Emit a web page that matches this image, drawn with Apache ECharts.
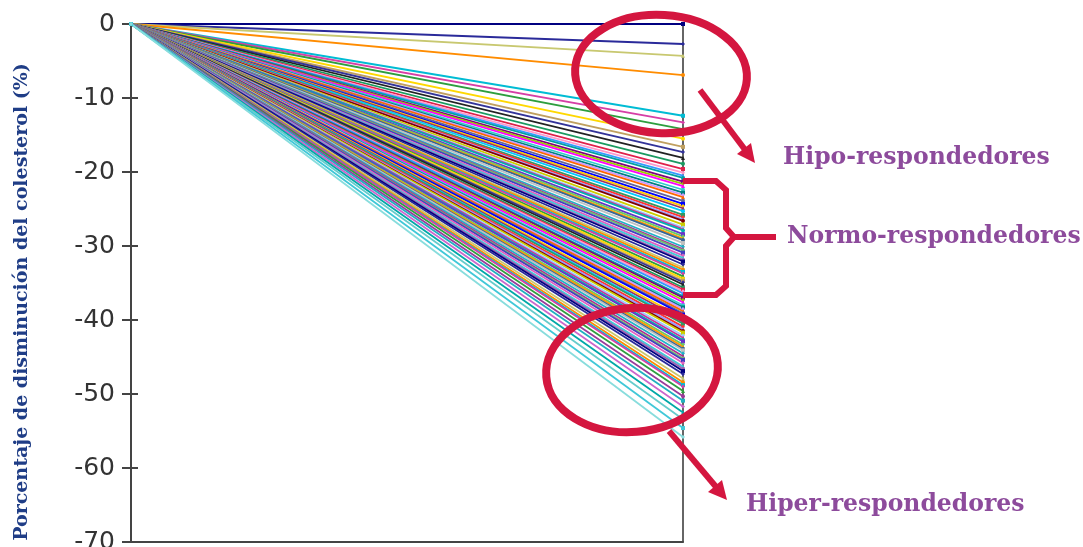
<!DOCTYPE html>
<html>
<head>
<meta charset="utf-8">
<script src="https://cdn.jsdelivr.net/npm/echarts@6/dist/echarts.min.js"></script>
<style>
html, body { margin: 0; padding: 0; background: #fff; }
#chart { width: 1083px; height: 547px; }
</style>
</head>
<body>
<div id="chart"></div>
<script>
// dos puntos: inicio del tratamiento y final
const momentos = ['Inicio', 'Final']
const yTicks = [0, -10, -20, -30, -40, -50, -60, -70]
// % de disminucion del colesterol al final, uno por paciente
const finales = [
  0, -2.7, -4.3, -6.9, -12.4, -13.3, -14.2, -15.5, -16.6, -17.3, -18.1, -18.9,
  -19.6, -20.1, -20.5, -20.8, -21.3, -21.6, -21.9, -22.4, -22.8, -23.1, -23.4, -23.9, -24.3, -24.6, -24.9, -25.3,
  -25.8, -26.1, -26.4, -26.6, -27.1, -27.5, -27.7, -27.9, -28.4, -28.7, -29.0, -29.2, -29.6, -30.1, -30.4,
  -30.6, -30.9, -31.3, -31.6, -31.9, -32.1, -32.5, -32.9, -33.2, -33.5, -33.7, -34.1, -34.4, -34.7, -34.9, -35.2,
  -35.6, -35.9, -36.1, -36.4, -36.8, -37.0, -37.3, -37.6, -38.0, -38.3, -38.5, -38.8, -39.1, -39.3, -39.7, -40.0,
  -40.3, -40.5, -40.9, -41.2, -41.5, -41.7, -42.1, -42.4, -42.7, -42.9, -43.3, -43.6, -43.9, -44.1, -44.5, -44.9,
  -45.2, -45.4, -45.8, -46.3, -46.6, -46.9, -47.3, -47.9, -48.4, -48.8, -49.0, -49.6, -50.3, -50.9, -51.7,
  -52.5, -53.4, -54.6, -55.8
]
const colores = [
  '#000080', '#2a2a9a', '#c8c870', '#ff8c00', '#00bcd4', '#d63fa6', '#2e9e3e', '#ffd800',
  '#c0a060', '#333399', '#222222', '#1a9a60', '#e0204a', '#ff99cc', '#3399ff', '#00a0a0',
  '#800080', '#99cc00', '#ff00ff', '#33cccc', '#008080', '#cc99ff', '#ff6600', '#666699',
  '#0000ff', '#ffcc00', '#993366', '#00ccff', '#339966', '#ff3333', '#9999ff', '#800000',
  '#cccc00', '#99ccff', '#cc3399', '#00b0b0', '#6633cc', '#66cc66', '#ff9900', '#336699',
  '#c0c0c0', '#20b2c8', '#b03090', '#70c070', '#4040c0', '#e060c0', '#40c8d8', '#a060b0'
]
// los pacientes con mayor descenso, en tonos frios como en el original
const coloresCola = ['#9a3a9a', '#20b0c0', '#cc66cc', '#00a8a8', '#66cccc', '#40c8d8', '#88dddd']
const simbolos = ['rect', 'diamond', 'triangle', 'circle']

const chart = echarts.init(document.getElementById('chart'))

const n = finales.length
const series = finales.map(function (v, i) {
  const k = i - (n - coloresCola.length)
  const c = k >= 0 ? coloresCola[k] : colores[i % colores.length]
  return {
    type: 'line',
    data: [0, v],
    symbol: simbolos[i % simbolos.length],
    symbolSize: 4,
    showSymbol: true,
    silent: true,
    lineStyle: { width: 1.8, color: c },
    itemStyle: { color: c }
  }
})

const rojo = '#d4163f'
const morado = '#8d4b9c'
const etiqueta = 'bold 23.5px "DejaVu Serif"'

chart.setOption({
  animation: false,
  grid: { left: 131, right: 400, top: 24, bottom: 5, outerBoundsMode: 'none' },
  xAxis: {
    type: 'category',
    data: momentos,
    boundaryGap: false,
    axisLine: { onZero: false, lineStyle: { color: '#444', width: 2 } },
    axisTick: { show: false },
    axisLabel: { show: false },
    splitLine: { show: false }
  },
  yAxis: [
    {
      type: 'value',
      min: -70,
      max: 0,
      interval: 10,
      axisLine: { show: true, lineStyle: { color: '#444', width: 2 } },
      axisTick: { show: true, length: 9, lineStyle: { color: '#444', width: 2 } },
      axisLabel: {
        color: '#333',
        fontFamily: 'DejaVu Sans',
        fontSize: 25,
        margin: 16,
        formatter: function (v) { return yTicks.indexOf(v) >= 0 ? String(v) : '' }
      },
      splitLine: { show: false }
    },
    {
      type: 'value',
      min: -70,
      max: 0,
      interval: 10,
      position: 'left',
      axisLine: { show: false },
      axisTick: { show: true, inside: true, length: 7, lineStyle: { color: '#444', width: 2 } },
      axisLabel: { show: false },
      splitLine: { show: false }
    },
    {
      type: 'value',
      min: -70,
      max: 0,
      position: 'right',
      axisLine: { show: true, lineStyle: { color: '#333', width: 1.5 } },
      axisTick: { show: false },
      axisLabel: { show: false },
      splitLine: { show: false }
    }
  ],
  series: series,
  graphic: [
    { type: 'text', x: 22, y: 302, rotation: Math.PI / 2, z: 100,
      style: { text: 'Porcentaje de disminución del colesterol (%)', fill: '#1f3d86',
        font: 'bold 19px "DejaVu Serif"', align: 'center', verticalAlign: 'middle' } },
    { type: 'ellipse', shape: { cx: 661, cy: 74, rx: 86, ry: 59 }, rotation: -0.06, originX: 661, originY: 74,
      style: { fill: 'none', stroke: rojo, lineWidth: 8 }, z: 100 },
    { type: 'line', shape: { x1: 700, y1: 90, x2: 746, y2: 151 }, style: { stroke: rojo, lineWidth: 6 }, z: 100 },
    { type: 'polygon', shape: { points: [[755, 163], [737, 154], [751, 143]] }, style: { fill: rojo }, z: 100 },
    { type: 'polyline', shape: { points: [[683, 181], [716, 181], [726, 190], [726, 228], [734, 237], [776, 237]] },
      style: { fill: 'none', stroke: rojo, lineWidth: 6 }, z: 100 },
    { type: 'polyline', shape: { points: [[734, 237], [726, 246], [726, 286], [716, 295], [683, 295]] },
      style: { fill: 'none', stroke: rojo, lineWidth: 6 }, z: 100 },
    { type: 'ellipse', shape: { cx: 632, cy: 370, rx: 86, ry: 62 }, rotation: 0.08, originX: 632, originY: 370,
      style: { fill: 'none', stroke: rojo, lineWidth: 8 }, z: 100 },
    { type: 'line', shape: { x1: 669, y1: 431, x2: 717, y2: 488 }, style: { stroke: rojo, lineWidth: 6 }, z: 100 },
    { type: 'polygon', shape: { points: [[727, 500], [708, 492], [722, 480]] }, style: { fill: rojo }, z: 100 },
    { type: 'text', x: 783, y: 158, z: 100,
      style: { text: 'Hipo-respondedores', fill: morado, font: etiqueta, verticalAlign: 'middle' } },
    { type: 'text', x: 787, y: 237, z: 100,
      style: { text: 'Normo-respondedores', fill: morado, font: etiqueta, verticalAlign: 'middle' } },
    { type: 'text', x: 746, y: 505, z: 100,
      style: { text: 'Hiper-respondedores', fill: morado, font: etiqueta, verticalAlign: 'middle' } }
  ]
})
</script>
</body>
</html>
